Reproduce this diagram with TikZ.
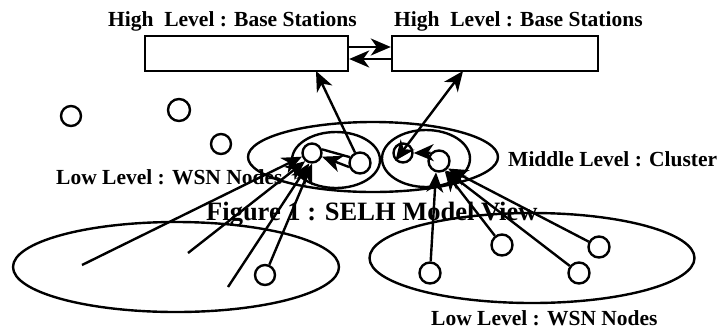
\documentclass[tikz,border=0pt]{standalone}
\usepackage{fontspec}
\setmainfont{Liberation Serif}
\usetikzlibrary{arrows.meta,shapes.geometric}
\begin{document}
\begin{tikzpicture}[x=1pt,y=-1pt,
  every path/.style={line width=2.4pt},
  hd/.tip={Stealth[length=20pt,width=17pt,inset=6pt]},
  arr/.style={line width=2.4pt,-hd},
  darr/.style={line width=2.4pt,hd-hd},
  bx/.style={draw,line width=2.4pt,rectangle,inner sep=0,minimum width=#1,minimum height=35pt},
  dot/.style={draw,line width=2.4pt,circle,inner sep=0,minimum size=#1},
  ell/.style={draw,line width=2.4pt,ellipse,inner sep=0},
  lbl/.style={font=\fontsize{21.5}{24}\selectfont\bfseries,inner sep=0,anchor=base west},
]
\useasboundingbox (0,0) rectangle (722,333);
% boxes
\node[bx=203pt] (box1) at (246.5,53.5) {};
\node[bx=206pt] (box2) at (495,53.5) {};
\node[lbl] (h1) at (107,26) {High\ \ Level : Base Stations};
\node[lbl] (h2) at (393,26) {High\ \ Level : Base Stations};
% ellipses
\node[ell,minimum width=250pt,minimum height=70pt] (big) at (373,157) {};
\node[ell,minimum width=88pt,minimum height=56pt] (cl) at (336,160) {};
\node[ell,minimum width=88pt,minimum height=57pt] (cr) at (426,158.5) {};
\node[ell,minimum width=326pt,minimum height=90pt] (bl) at (176,267) {};
\node[ell,minimum width=325pt,minimum height=90pt] (br) at (532,258) {};
% circles
\node[dot=20pt] (f1) at (71,116) {};
\node[dot=22pt] (f2) at (179,110) {};
\node[dot=20pt] (f3) at (221,144) {};
\node[dot=19pt] (A) at (312,153) {};
\node[dot=21pt] (B) at (360,163) {};
\node[dot=19pt] (C) at (403,153) {};
\node[dot=21pt] (D) at (439,161) {};
\node[dot=20pt] (E) at (265,275) {};
\node[dot=21pt] (F) at (430,273) {};
\node[dot=21pt] (G) at (502,245) {};
\node[dot=21pt] (H) at (579,273) {};
\node[dot=21pt] (I) at (599,247) {};
% free ends
\coordinate (p1) at (82,265);
\coordinate (p2) at (188,253);
\coordinate (p3) at (228,287);
\coordinate (t1) at (316,71);
\coordinate (t2) at (463,71);
% connectors
\draw[arr] ([yshift=6.5pt]box1.east) -- ([yshift=6.5pt]box2.west);
\draw[arr] ([yshift=-5.5pt]box2.west) -- ([yshift=-5.5pt]box1.east);
\draw[arr] (B) -- (t1);
\draw[darr] (t2) -- (C.south west);
\draw[arr] (D.north west) -- (C.east);
\draw[line width=2.4pt] (A.20) -- (B.150);
\draw[arr] (B.200) -- (A.340);
\draw[arr] (p1) -- (A.200);
\draw[arr] (p2) -- (A.230);
\draw[arr] (p3) -- (A.255);
\draw[arr] (E) -- (A.270);
\draw[arr] (F) -- (D.255);
\draw[arr] (G) -- (D.300);
\draw[arr] (H) -- (D.305);
\draw[arr] (I) -- (D.320);
% labels
\node[lbl] (low1) at (55,184) {Low Level : WSN Nodes};
\node[lbl] (mid) at (507,166) {Middle Level : Cluster};
\node[lbl,font=\fontsize{26.5}{30}\selectfont\bfseries] (fig) at (205,220) {Figure 1 : SELH Model View};
\node[lbl] (low2) at (430,325) {Low Level : WSN Nodes};
\end{tikzpicture}
\end{document}
